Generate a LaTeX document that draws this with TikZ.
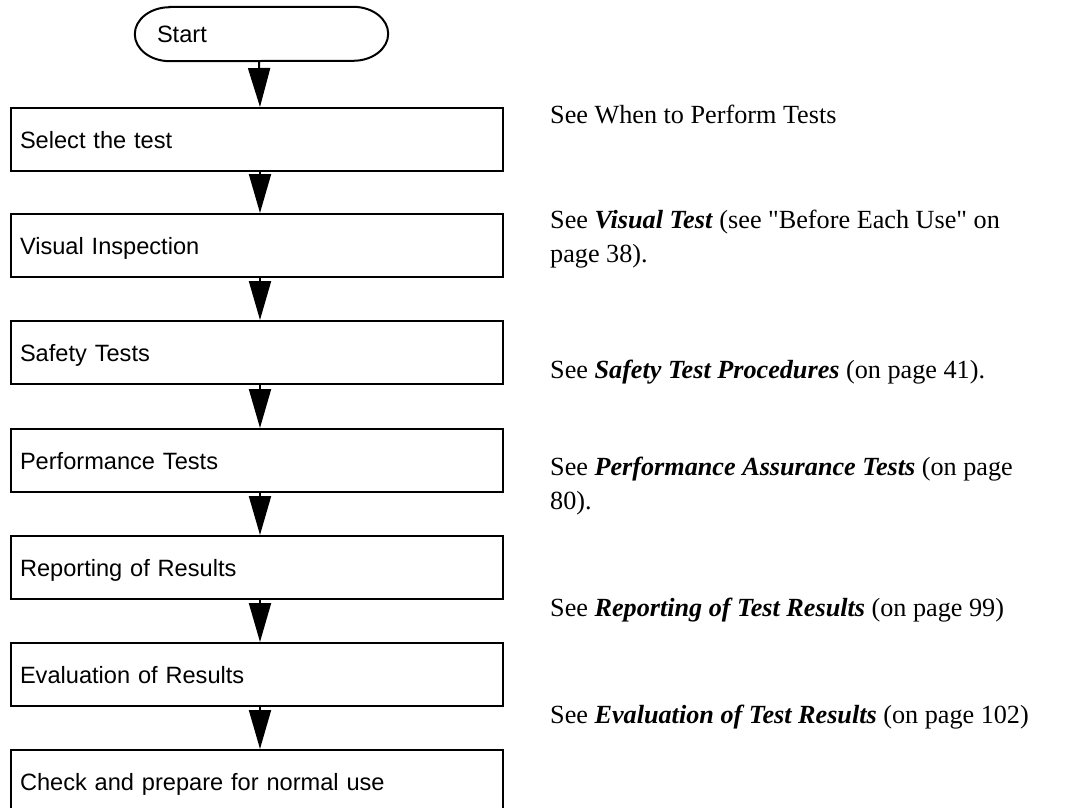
\documentclass[tikz,border=0pt]{standalone}
\usepackage{fontspec}
\setmainfont{Liberation Serif}[Ligatures=TeXOff]
\newfontfamily\boxfont{Liberation Sans}
\usetikzlibrary{arrows.meta}
\begin{document}
\begin{tikzpicture}[x=1pt,y=-1pt,
  stepbox/.style={draw, line width=2pt, anchor=north west,
    text width=474pt, inner xsep=9pt, inner ysep=0pt, align=left,
    minimum height=63pt, text height=17pt, text depth=0pt,
    font=\boxfont\fontsize{23.6}{28}\selectfont},
  note/.style={anchor=base west, inner sep=0pt,
    font=\fontsize{26.2}{34}\selectfont},
  arr/.style={line width=2pt, -{Triangle[length=39pt,width=22pt]}}]
\clip (0,0) rectangle (1077,808);
\fill[white] (0,0) rectangle (1077,808);

% Start terminal
\node[minimum width=253pt, minimum height=54pt, text width=209pt,
  inner xsep=22pt, inner ysep=0pt, align=left, text height=17pt, text depth=0pt,
  font=\boxfont\fontsize{23.6}{28}\selectfont] (start) at (261.5,34) {Start};
\draw[line width=2pt]
  ([xshift=35pt]start.north west) -- ([xshift=-35pt]start.north east)
  arc[start angle=90, end angle=-90, x radius=35pt, y radius=27pt]
  -- ([xshift=35pt]start.south west)
  arc[start angle=270, end angle=90, x radius=35pt, y radius=27pt] -- cycle;

% Steps
\node[stepbox] (b1) at (10,107) {Select the test};
\node[stepbox] (b2) at (10,213) {Visual Inspection};
\node[stepbox] (b3) at (10,320) {Safety Tests};
\node[stepbox] (b4) at (10,428) {Performance Tests};
\node[stepbox] (b5) at (10,535) {Reporting of Results};
\node[stepbox] (b6) at (10,642) {Evaluation of Results};
\node[stepbox] (b7) at (10,749) {Check and prepare for normal use};

% Connectors
\draw[arr] ([xshift=-2.5pt]start.south) -- ([xshift=3pt]b1.north);
\draw[arr] ([xshift=3pt]b1.south) -- ([xshift=3pt]b2.north);
\draw[arr] ([xshift=3pt]b2.south) -- ([xshift=3pt]b3.north);
\draw[arr] ([xshift=3pt]b3.south) -- ([xshift=3pt]b4.north);
\draw[arr] ([xshift=3pt]b4.south) -- ([xshift=3pt]b5.north);
\draw[arr] ([xshift=3pt]b5.south) -- ([xshift=3pt]b6.north);
\draw[arr] ([xshift=3pt]b6.south) -- ([xshift=3pt]b7.north);

% Notes
\node[note] (n1) at (550,123) {See When to Perform Tests};
\node[note] (n2) at (550,228) {\parbox[t]{520pt}{\baselineskip=34pt See \textbf{\textit{Visual Test}} (see "Before Each Use" on\\page 38).}};
\node[note] (n3) at (550,378) {See \textbf{\textit{Safety Test Procedures}} (on page 41).};
\node[note] (n4) at (550,475) {\parbox[t]{520pt}{\baselineskip=34pt See \textbf{\textit{Performance Assurance Tests}} (on page\\80).}};
\node[note] (n5) at (550,616) {See \textbf{\textit{Reporting of Test Results}} (on page 99)};
\node[note] (n6) at (550,723) {See \textbf{\textit{Evaluation of Test Results}} (on page 102)};
\end{tikzpicture}
\end{document}
